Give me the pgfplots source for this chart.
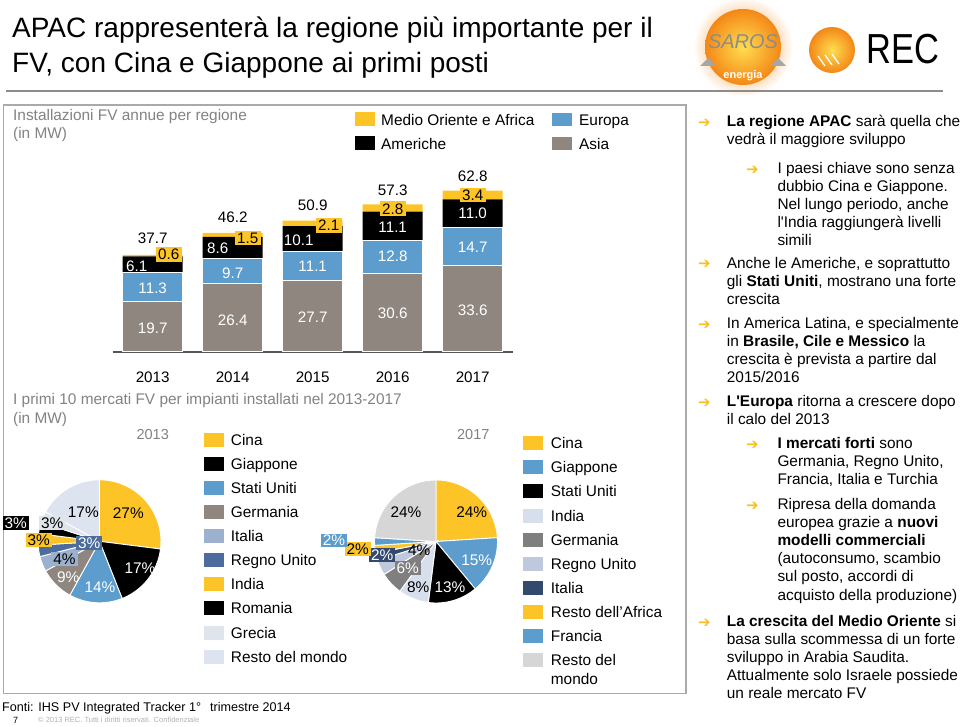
\documentclass[border=0pt]{standalone}
\usepackage{fontspec}
\setmainfont{Liberation Sans}
\newfontfamily\dejavu{DejaVu Sans}
\usepackage{pgfplots}
\pgfplotsset{compat=1.18}
\definecolor{cyel}{RGB}{252,196,38}
\definecolor{cblu}{RGB}{92,157,206}
\definecolor{casia}{RGB}{143,135,127}
\definecolor{citaly}{RGB}{156,177,206}
\definecolor{cuk}{RGB}{77,108,158}
\definecolor{cgrec}{RGB}{224,228,235}
\definecolor{cresto}{RGB}{221,227,239}
\definecolor{cindia}{RGB}{216,223,236}
\definecolor{cger}{RGB}{127,127,127}
\definecolor{cuk2}{RGB}{190,201,222}
\definecolor{cita2}{RGB}{51,73,109}
\definecolor{cresto2}{RGB}{214,214,214}
\definecolor{cgraytxt}{RGB}{130,130,130}
\definecolor{cframe}{RGB}{170,170,170}
\definecolor{cline}{RGB}{140,140,140}
\definecolor{caxis}{RGB}{85,85,85}
\definecolor{carrow}{RGB}{250,190,30}
\definecolor{sunin}{RGB}{255,222,80}
\definecolor{sunout}{RGB}{244,135,22}
\newcommand\T{\fontsize{15.4}{18.5}\selectfont}
\newcommand\B{\fontsize{15.2}{18}\selectfont}
\newcommand\arr{{\dejavu\color{carrow}\fontsize{15}{15}\selectfont ➔}}
\tikzset{lab/.style={font=\B, inner sep=0pt}, ybox/.style={font=\B, fill=cyel, inner xsep=2.5pt, inner ysep=2pt}}
\pgfplotsset{barframe/.style={at={(112.7pt,-351.7pt)}, anchor=south west, scale only axis,
  width=400pt, height=179.9pt, xmin=-0.5, xmax=4.5, ymin=0, ymax=70, clip=false}}
% pie slice: colour, cumulative start (%), share (%)
\newcommand\pieslice[3]{%
  \pgfmathsetmacro\psa{90-3.6*#2}%
  \pgfmathsetmacro\pea{90-3.6*(#2+#3)}%
  \edef\psdo{\noexpand\addplot[data cs=polar, fill=#1, draw=white, line width=0.9pt] coordinates {(0,0) (\psa,1)} arc[start angle=\psa, end angle=\pea, radius=61.5pt] -- cycle;}%
  \psdo}
\begin{document}
\begin{tikzpicture}
\begin{scope}[x=1pt,y=-1pt]
\path[use as bounding box] (0,0) rectangle (960,727);
% title
\node[anchor=base west, inner sep=0, font=\fontsize{28}{33}\selectfont] at (12,38) {APAC rappresenterà la regione più importante per il};
\node[anchor=base west, inner sep=0, font=\fontsize{28}{33}\selectfont] at (12,73) {FV, con Cina e Giappone ai primi posti};
% logos
\shade[inner color=sunout, outer color=white] (743,47) circle (50);
\shade[inner color=sunin, outer color=sunout] (743,47) circle (38);
\node[text=black!45, font=\fontsize{20}{20}\selectfont\itshape] at (743,42) {SAROS};
\fill[black!35] (700,66) -- (708,58) -- (716,66) -- cycle;
\fill[black!35] (770,66) -- (778,58) -- (786,66) -- cycle;
\node[text=white, font=\fontsize{11}{11}\selectfont\bfseries] at (743,76) {energia};
\shade[inner color=sunin, outer color=sunout] (832,50) circle (23);
\draw[white, line width=1.3pt] (818,56)--(825,66) (825,55)--(832,65) (832,54)--(839,64);
\node[anchor=base west, inner sep=0, xscale=0.82, font=\fontsize{42}{42}\selectfont] at (866,64) {REC};
\draw[cline, line width=2pt] (6,91) -- (943,91);
\draw[cframe, line width=1.3pt] (3.3,105) rectangle (686,693.3);
% bar chart texts
\node[anchor=base west, inner sep=0, font=\T, text=cgraytxt] at (13,121) {Installazioni FV annue per regione};
\node[anchor=base west, inner sep=0, font=\T, text=cgraytxt] at (13,139) {(in MW)};
\fill[cyel] (355,111.7) rectangle (375,126);
\node[anchor=base west, inner sep=0, font=\T] at (381,126) {Medio Oriente e Africa};
\fill[black] (355,136) rectangle (375,150);
\node[anchor=base west, inner sep=0, font=\T] at (381,150) {Americhe};
\fill[cblu] (552,112.7) rectangle (572,126);
\node[anchor=base west, inner sep=0, font=\T] at (579,126) {Europa};
\fill[casia] (552,136.7) rectangle (572,150);
\node[anchor=base west, inner sep=0, font=\T] at (579,150) {Asia};
% pies texts
\node[anchor=base west, inner sep=0, font=\T, text=cgraytxt] at (13,404) {I primi 10 mercati FV per impianti installati nel 2013-2017};
\node[anchor=base west, inner sep=0, font=\T, text=cgraytxt] at (13,423) {(in MW)};
\node[font=\fontsize{14.5}{17}\selectfont, text=cgraytxt] at (152.7,435) {2013};
\node[font=\fontsize{14.5}{17}\selectfont, text=cgraytxt] at (473.3,435) {2017};
% legend 2013
\foreach \c/\t [count=\i from 0] in {cyel/Cina, black/Giappone, cblu/Stati Uniti, casia/Germania, citaly/Italia, cuk/Regno Unito, cyel/India, black/Romania, cgrec/Grecia, cresto/Resto del mondo}{
  \fill[\c] (204,433+24.07*\i) rectangle (224,447+24.07*\i);
  \node[anchor=base west, inner sep=0, font=\T] at (230.7,445.5+24.07*\i) {\t};
}
% legend 2017
\foreach \c/\t [count=\i from 0] in {cyel/Cina, cblu/Giappone, black/Stati Uniti, cindia/India, cger/Germania, cuk2/Regno Unito, cita2/Italia, cyel/Resto dell’Africa, cblu/Francia, cresto2/Resto del}{
  \fill[\c] (523.3,436.3+24.07*\i) rectangle (543.3,450.3+24.07*\i);
  \node[anchor=base west, inner sep=0, font=\T] at (550.7,448.8+24.07*\i) {\t};
}
\node[anchor=base west, inner sep=0, font=\T] at (550.7,684) {mondo};
% footer
\node[anchor=base west, inner sep=0, font=\fontsize{12.6}{15}\selectfont] at (2,711) {Fonti: IHS PV Integrated Tracker 1°\hspace{9pt}trimestre 2014};
\node[anchor=base west, inner sep=0, font=\fontsize{9}{10}\selectfont] at (13,723) {7};
\node[anchor=base west, inner sep=0, font=\fontsize{7.5}{9}\selectfont, text=black!30] at (38,722) {© 2013 REC. Tutti i diritti riservati. Confidenziale};
% right column
\foreach \y in {126.7,268,328,406.7,626}{\node[anchor=base west, inner sep=0] at (698,\y+1) {\arr};}
\foreach \y in {173.5,448.3,509.5}{\node[anchor=base west, inner sep=0] at (746,\y+1) {\arr};}
\foreach \y/\t in {126.7/{\textbf{La regione APAC} sarà quella che}, 144.8/{vedrà il maggiore sviluppo},
  268/{Anche le Americhe, e soprattutto}, 286.1/{gli \textbf{Stati Uniti}, mostrano una forte}, 304.2/{crescita},
  328/{In America Latina, e specialmente}, 346.1/{in \textbf{Brasile, Cile e Messico} la}, 364.2/{crescita è prevista a partire dal}, 382.3/{2015/2016},
  406.7/{\textbf{L\textquotesingle Europa} ritorna a crescere dopo}, 424.8/{il calo del 2013},
  626/{\textbf{La crescita del Medio Oriente} si}, 644.1/{basa sulla scommessa di un forte}, 662.2/{sviluppo in Arabia Saudita.}, 680.3/{Attualmente solo Israele possiede}, 698.4/{un reale mercato FV}}{
  \node[anchor=base west, inner sep=0, font=\T] at (726.7,\y) {\t};
}
\foreach \y/\t in {173.5/{I paesi chiave sono senza}, 191.6/{dubbio Cina e Giappone.}, 209.7/{Nel lungo periodo, anche}, 227.8/{l\textquotesingle India raggiungerà livelli}, 245.9/{simili},
  448.3/{\textbf{I mercati forti} sono}, 466.5/{Germania, Regno Unito,}, 484.7/{Francia, Italia e Turchia},
  509.5/{Ripresa della domanda}, 527.6/{europea grazie a \textbf{nuovi}}, 545.7/{\textbf{modelli commerciali}}, 563.8/{(autoconsumo, scambio}, 581.9/{sul posto, accordi di}, 600/{acquisto della produzione)}}{
  \node[anchor=base west, inner sep=0, font=\T] at (777.3,\y) {\t};
}
\end{scope}

% ---------- stacked bar chart ----------
\begin{axis}[barframe,
  ybar stacked, bar width=60pt, axis y line=none, axis x line=bottom,
  x axis line style={-, draw=caxis, line width=1.8pt},
  xtick={0,1,2,3,4}, xticklabels={2013,2014,2015,2016,2017}, major tick length=0pt,
  xticklabel style={font=\B, anchor=base, yshift=-30.3pt}]
\addplot[fill=casia, draw=white, line width=1pt] coordinates {(0,19.7) (1,26.4) (2,27.7) (3,30.6) (4,33.6)};
\addplot[fill=cblu, draw=white, line width=1pt] coordinates {(0,11.3) (1,9.7) (2,11.1) (3,12.8) (4,14.7)};
\addplot[fill=black, draw=none] coordinates {(0,6.1) (1,8.6) (2,10.1) (3,11.1) (4,11.0)};
\addplot[fill=cyel, draw=none] coordinates {(0,0.6) (1,1.5) (2,2.1) (3,2.8) (4,3.4)};
\end{axis}
% overlay axis with the same frame for the value labels
\begin{axis}[barframe, hide axis]
\node[lab, text=white] at (axis cs:0,9.3) {19.7};
\node[lab, text=white] at (axis cs:1,12.3) {26.4};
\node[lab, text=white] at (axis cs:2,13.6) {27.7};
\node[lab, text=white] at (axis cs:3,14.9) {30.6};
\node[lab, text=white] at (axis cs:4,16.2) {33.6};
\node[lab, text=white] at (axis cs:0,24.7) {11.3};
\node[lab, text=white] at (axis cs:1,30.7) {9.7};
\node[lab, text=white] at (axis cs:2,33.3) {11.1};
\node[lab, text=white] at (axis cs:3,37.0) {12.8};
\node[lab, text=white] at (axis cs:4,40.6) {14.7};
\node[lab, text=white, xshift=-16pt] at (axis cs:0,33.3) {6.1};
\node[lab, text=white, xshift=-15pt] at (axis cs:1,40.2) {8.6};
\node[lab, text=white, xshift=-14pt] at (axis cs:2,43.5) {10.1};
\node[lab, text=white] at (axis cs:3,48.6) {11.1};
\node[lab, text=white] at (axis cs:4,53.9) {11.0};
\node[ybox, xshift=16pt] at (axis cs:0,37.8) {0.6};
\node[ybox, xshift=15pt] at (axis cs:1,44.2) {1.5};
\node[ybox, xshift=16pt] at (axis cs:2,49.1) {2.1};
\node[ybox] at (axis cs:3,55.6) {2.8};
\node[ybox] at (axis cs:4,61.0) {3.4};
\node[lab] at (axis cs:0,44.1) {37.7};
\node[lab] at (axis cs:1,52.3) {46.2};
\node[lab] at (axis cs:2,57.1) {50.9};
\node[lab] at (axis cs:3,62.9) {57.3};
\node[lab] at (axis cs:4,68.4) {62.8};
\end{axis}

% ---------- pie 2013 ----------
\begin{axis}[at={(38pt,-602.8pt)}, anchor=south west, scale only axis,
  width=123pt, height=123pt, xmin=-1, xmax=1, ymin=-1, ymax=1, hide axis, clip=false]
\pieslice{cyel}{0}{27}
\pieslice{black}{27}{17}
\pieslice{cblu}{44}{14}
\pieslice{casia}{58}{9}
\pieslice{citaly}{67}{4}
\pieslice{cuk}{71}{3}
\pieslice{cyel}{74}{3}
\pieslice{black}{77}{3}
\pieslice{cgrec}{80}{3}
\pieslice{cresto}{83}{17}
\end{axis}

% ---------- pie 2017 ----------
\begin{axis}[at={(374.5pt,-603pt)}, anchor=south west, scale only axis,
  width=123pt, height=123pt, xmin=-1, xmax=1, ymin=-1, ymax=1, hide axis, clip=false]
\pieslice{cyel}{0}{24}
\pieslice{cblu}{24}{15}
\pieslice{black}{39}{13}
\pieslice{cindia}{52}{8}
\pieslice{cger}{60}{6}
\pieslice{cuk2}{66}{4}
\pieslice{cita2}{70}{2}
\pieslice{cyel}{72}{2}
\pieslice{cblu}{74}{2}
\pieslice{cresto2}{76}{24}
\end{axis}

% pie labels
\begin{scope}[x=1pt,y=-1pt, every node/.style={font=\T, inner xsep=2pt, inner ysep=1.5pt}]
\node at (128.3,513.3) {27\%};
\node[text=white] at (140,568.3) {17\%};
\node[text=white] at (100,586.7) {14\%};
\node[text=white] at (68.3,576.7) {9\%};
\node[fill=citaly] at (64.5,558.8) {4\%};
\node[fill=cuk, text=white] at (89.2,543) {3\%};
\node[fill=cyel] at (38.8,540) {3\%};
\node[fill=black, text=white] at (15.8,523) {3\%};
\node[fill=cgrec] at (52.2,523.3) {3\%};
\node at (83.3,511.7) {17\%};
\node at (471.7,512) {24\%};
\node[text=white] at (476.7,560) {15\%};
\node[text=white] at (450,587.3) {13\%};
\node at (418.3,587.3) {8\%};
\node[fill=cger, text=white] at (407.7,568.3) {6\%};
\node at (419.3,550) {4\%};
\node[fill=cita2, text=white] at (382.2,554.7) {2\%};
\node[fill=cyel] at (357.8,548.8) {2\%};
\node[fill=cblu, text=white] at (334,540.5) {2\%};
\node at (406,512) {24\%};
\end{scope}
\end{tikzpicture}
\end{document}
